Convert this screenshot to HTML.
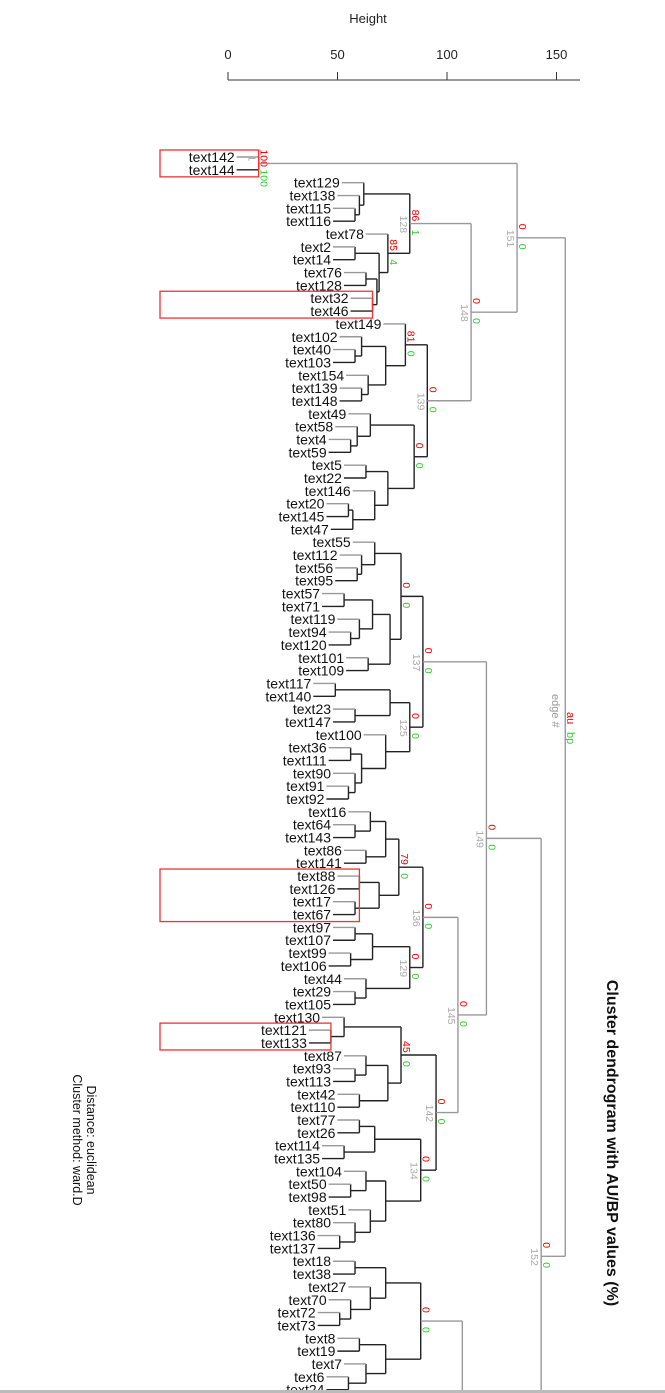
<!DOCTYPE html>
<html><head><meta charset="utf-8"><title>Cluster dendrogram</title>
<style>html,body{margin:0;padding:0;background:#fff;overflow:hidden;width:665px;height:1393px;}svg{display:block;overflow:hidden;font-family:"Liberation Sans",Arial,sans-serif;}</style>
</head><body>
<svg id="chart" width="665" height="1393" viewBox="0 0 665 1393" xmlns="http://www.w3.org/2000/svg">
<text x="368" y="23" font-size="13" text-anchor="middle" fill="#222">Height</text>
<g id="axis"></g>
<g id="tree"></g>
<g id="labels"></g>
<g id="boxes"></g>
<text transform="translate(607,1143) rotate(90)" font-size="16" font-weight="bold" text-anchor="middle" fill="#111">Cluster dendrogram with AU/BP values (%)</text>
<text transform="translate(87,1140) rotate(90)" font-size="12.5" text-anchor="middle" fill="#111">Distance:  euclidean</text>
<text transform="translate(73,1140) rotate(90)" font-size="12.5" text-anchor="middle" fill="#111">Cluster method: ward.D</text>
<text transform="translate(567,712) rotate(90)" font-size="11" fill="#e00">au</text>
<text transform="translate(567,732) rotate(90)" font-size="11" fill="#3c3">bp</text>
<text transform="translate(552,694) rotate(90)" font-size="11" fill="#999">edge #</text>
<rect x="0" y="1390" width="665" height="3" fill="#bbb"/>
</svg>
<script>
const NS="http://www.w3.org/2000/svg";
const leafLabels=["text142","text144","text129","text138","text115","text116","text78","text2","text14","text76","text128","text32","text46","text149","text102","text40","text103","text154","text139","text148","text49","text58","text4","text59","text5","text22","text146","text20","text145","text47","text55","text112","text56","text95","text57","text71","text119","text94","text120","text101","text109","text117","text140","text23","text147","text100","text36","text111","text90","text91","text92","text16","text64","text143","text86","text141","text88","text126","text17","text67","text97","text107","text99","text106","text44","text29","text105","text130","text121","text133","text87","text93","text113","text42","text110","text77","text26","text114","text135","text104","text50","text98","text51","text80","text136","text137","text18","text38","text27","text70","text72","text73","text8","text19","text7","text6","text24"];
const tickValues=[0,50,100,150];
const highlightRanges=[[0,1],[11,12],[56,59],[68,69]];
const A01=[14,0,1,100,100,1];
const T2_5=[62,2,[60,3,[58,4,5]]];
const T6_12=[73,6,[69,[58,7,8],[68,[63,9,10],[66,11,12]]],85,4];
const n128=[83,T2_5,T6_12,86,1,128];
const T13_19=[81,13,[72,[61,14,[58,15,16]],[64,17,[61,18,19]]],81,0];
const T20_29=[85,[65,20,[59,21,[56,22,23]]],[73,[63,24,25],[67,26,[57,[55,27,28],29]]],0,0];
const n139=[91,T13_19,T20_29,0,0,139];
const n148=[111,n128,n139,0,0,148];
const n151=[132,A01,n148,0,0,151];
const T30_40=[79,[67,30,[61,31,[59,32,33]]],[74,[66,[53,34,35],[60,36,[56,37,38]]],[64,39,40]],0,0];
const T41_50=[83,[74,[49,41,42],[58,43,44]],[72,45,[61,[56,46,47],[58,48,[55,49,50]]]],0,0,125];
const n137=[89,T30_40,T41_50,0,0,137];
const T51_59=[78,[72,[65,51,[58,52,53]],[63,54,55]],[69,[60,56,57],[58,58,59]],79,0];
const T60_66=[83,[66,[58,60,61],[56,62,63]],[63,64,[58,65,66]],0,0,129];
const n136=[89,T51_59,T60_66,0,0,136];
const T67_74=[79,[53,67,[47,68,69]],[73,[63,70,[58,71,72]],[60,73,74]],45,0];
const T75_85=[88,[67,[60,75,76],[53,77,78]],[72,[63,79,[56,80,81]],[65,82,[58,83,[51,84,85]]]],0,0,134];
const n142=[95,T67_74,T75_85,0,0,142];
const n145=[105,n136,n142,0,0,145];
const n149=[118,n137,n145,0,0,149];
const T86_96=[88,[72,[58,86,87],[65,88,[56,89,[51,90,91]]]],[72,[60,92,93],[63,94,[55,95,96]]],0,0];
const n133=[107,T86_96,{s:120},0,0,133];
const nB=[133,n133,{s:131}];
const n152=[143,n149,nB,0,0,152];
const root=[154,n151,n152];

const X0=228, PX=2.19, Y0=157, ROW=12.84;
const xs=h=>X0+h*PX, ys=r=>Y0+r*ROW;
const tree=document.getElementById('tree'), labs=document.getElementById('labels'), axis=document.getElementById('axis'), boxes=document.getElementById('boxes');
function mk(tag,attrs,parent){const e=document.createElementNS(NS,tag);for(const k in attrs)e.setAttribute(k,attrs[k]);parent.appendChild(e);return e;}
const ax=mk('line',{x1:xs(0),y1:80,x2:580,y2:80,stroke:'#333','stroke-width':1},axis);


tickValues.forEach(v=>{
  const t=mk('line',{x1:xs(v),y1:72,x2:xs(v),y2:80,stroke:'#333'},axis);
  
  
  const l=mk('text',{x:xs(v),y:59,'font-size':13,'text-anchor':'middle',fill:'#222'},axis);
  l.textContent=v;
  
  
});
const leafStart={};
function pos(n,parentX){
  if(typeof n==='number'){const sx=parentX-22;leafStart[n]=sx;return {x:sx,y:ys(n)};}
  if(n.s!==undefined){return {x:parentX-30,y:ys(n.s)};}
  const x=xs(n[0]);
  const a=pos(n[1],x), b=pos(n[2],x);
  const y=(a.y+b.y)/2;
  const col=n[0]>100?'#999':'#222';
  const v=mk('line',{x1:x,y1:a.y,x2:x,y2:b.y,stroke:col,'stroke-width':1.4},tree);
  
  
  [a,b].forEach((c,i)=>{
    const h=mk('line',{x1:c.x,y1:c.y,x2:x,y2:c.y,stroke:(typeof (i?n[2]:n[1])==='number'&&i===0)?'#999':col,'stroke-width':1.4},tree);
    
    
  });
  if(n[3]!==undefined){
    const au=mk('text',{transform:`translate(${x+2},${y-14}) rotate(90)`,'font-size':10.5,fill:'#e00'},tree);
    au.textContent=n[3];
    
    
    const bp=mk('text',{transform:`translate(${x+2},${y+6}) rotate(90)`,'font-size':10.5,fill:'#3c3'},tree);
    bp.textContent=n[4];
    
    
  }
  if(n[5]!==undefined){
    const ed=mk('text',{transform:`translate(${x-10},${y-8}) rotate(90)`,'font-size':10.5,fill:'#aaa'},tree);
    ed.textContent=n[5];
    
    
  }
  return {x,y};
}
pos(root,600);
leafLabels.forEach((s,i)=>{
  const t=mk('text',{x:leafStart[i]-2,y:ys(i)+5,'font-size':14,'text-anchor':'end',fill:'#111'},labs);
  t.textContent=s;
  
  
});
highlightRanges.forEach(r=>{
  let mx=0;for(let i=r[0];i<=r[1];i++)mx=Math.max(mx,leafStart[i]+22);
  const b=mk('rect',{x:160,y:ys(r[0])-7,width:mx-160,height:ys(r[1])-ys(r[0])+14,fill:'none',stroke:'#e33','stroke-width':1.3},boxes);
  
  
});
</script>
</body></html>
